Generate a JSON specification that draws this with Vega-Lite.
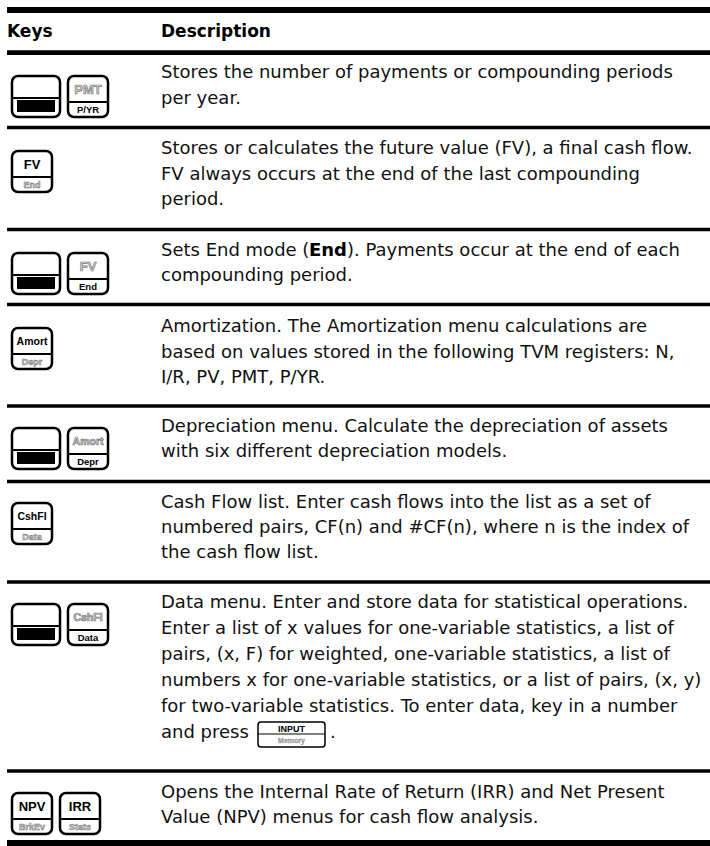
{
  "$schema": "https://vega.github.io/schema/vega-lite/v6.json",
  "width": 710,
  "height": 846,
  "padding": 0,
  "autosize": {"type": "none"},
  "background": "white",
  "config": {"view": {"stroke": null}},
  "datasets": {
    "rules": [
      {"y": 10, "level": "frame"},
      {"y": 52.5, "level": "head"},
      {"y": 127.5, "level": "row"},
      {"y": 229.5, "level": "row"},
      {"y": 304.5, "level": "row"},
      {"y": 406, "level": "row"},
      {"y": 481.5, "level": "row"},
      {"y": 582, "level": "row"},
      {"y": 771, "level": "row"},
      {"y": 843, "level": "frame"}
    ],
    "header": [
      {"x": 7, "y": 37, "text": "Keys"},
      {"x": 161, "y": 37, "text": "Description"}
    ],
    "emph": [
      {"x": 309, "y": 256, "text": "End"}
    ],
    "body": [
      {"x": 161, "y": 78, "text": "Stores the number of payments or compounding periods"},
      {"x": 161, "y": 104, "text": "per year."},
      {"x": 161, "y": 154, "text": "Stores or calculates the future value (FV), a final cash flow."},
      {"x": 161, "y": 180, "text": "FV always occurs at the end of the last compounding"},
      {"x": 161, "y": 205, "text": "period."},
      {"x": 161, "y": 256, "text": "Sets End mode ("},
      {"x": 347, "y": 256, "text": "). Payments occur at the end of each"},
      {"x": 161, "y": 281, "text": "compounding period."},
      {"x": 161, "y": 332, "text": "Amortization. The Amortization menu calculations are"},
      {"x": 161, "y": 358, "text": "based on values stored in the following TVM registers: N,"},
      {"x": 161, "y": 383, "text": "I/R, PV, PMT, P/YR."},
      {"x": 161, "y": 432, "text": "Depreciation menu. Calculate the depreciation of assets"},
      {"x": 161, "y": 457, "text": "with six different depreciation models."},
      {"x": 161, "y": 508, "text": "Cash Flow list. Enter cash flows into the list as a set of"},
      {"x": 161, "y": 533, "text": "numbered pairs, CF(n) and #CF(n), where n is the index of"},
      {"x": 161, "y": 558, "text": "the cash flow list."},
      {"x": 161, "y": 608, "text": "Data menu. Enter and store data for statistical operations."},
      {"x": 161, "y": 634, "text": "Enter a list of x values for one-variable statistics, a list of"},
      {"x": 161, "y": 660, "text": "pairs, (x, F) for weighted, one-variable statistics, a list of"},
      {"x": 161, "y": 686, "text": "numbers x for one-variable statistics, or a list of pairs, (x, y)"},
      {"x": 161, "y": 712, "text": "for two-variable statistics. To enter data, key in a number"},
      {"x": 161, "y": 738, "text": "and press"},
      {"x": 330, "y": 738, "text": "."},
      {"x": 161, "y": 798, "text": "Opens the Internal Rate of Return (IRR) and Net Present"},
      {"x": 161, "y": 823, "text": "Value (NPV) menus for cash flow analysis."}
    ],
    "keys": [
      {"row": 1, "shape": "shift", "x": 12, "x2": 60, "y": 76, "y2": 117},
      {"row": 1, "shape": "key", "x": 68, "x2": 108, "y": 76, "y2": 117, "top": "PMT", "bottom": "P/YR", "active": "bottom"},
      {"row": 2, "shape": "key", "x": 12, "x2": 52, "y": 151, "y2": 192, "top": "FV", "bottom": "End", "active": "top"},
      {"row": 3, "shape": "shift", "x": 12, "x2": 60, "y": 253, "y2": 294},
      {"row": 3, "shape": "key", "x": 68, "x2": 108, "y": 253, "y2": 294, "top": "FV", "bottom": "End", "active": "bottom"},
      {"row": 4, "shape": "key", "x": 12, "x2": 52, "y": 328, "y2": 369, "top": "Amort", "bottom": "Depr", "active": "top"},
      {"row": 5, "shape": "shift", "x": 12, "x2": 60, "y": 428, "y2": 469},
      {"row": 5, "shape": "key", "x": 68, "x2": 108, "y": 428, "y2": 469, "top": "Amort", "bottom": "Depr", "active": "bottom"},
      {"row": 6, "shape": "key", "x": 12, "x2": 52, "y": 503, "y2": 544, "top": "CshFl", "bottom": "Data", "active": "top"},
      {"row": 7, "shape": "shift", "x": 12, "x2": 60, "y": 604, "y2": 645},
      {"row": 7, "shape": "key", "x": 68, "x2": 108, "y": 604, "y2": 645, "top": "CshFl", "bottom": "Data", "active": "bottom"},
      {"row": 8, "shape": "key", "x": 12, "x2": 52, "y": 793, "y2": 834, "top": "NPV", "bottom": "BrkEv", "active": "top"},
      {"row": 8, "shape": "key", "x": 60, "x2": 100, "y": 793, "y2": 834, "top": "IRR", "bottom": "Stats", "active": "top"}
    ],
    "inline": [
      {"x": 258, "x2": 325, "y": 722, "y2": 747, "top": "INPUT", "bottom": "Memory"}
    ]
  },
  "layer": [
    {
      "data": {"name": "rules"},
      "mark": {"type": "rule", "color": "#000"},
      "encoding": {
        "y": {"field": "y", "type": "quantitative", "scale": {"domain": [0, 846], "range": [0, 846], "nice": false, "zero": false}, "axis": null},
        "x": {"datum": 7, "type": "quantitative", "scale": {"domain": [0, 710], "range": [0, 710], "nice": false, "zero": false}, "axis": null},
        "x2": {"datum": 710},
        "size": {"field": "level", "type": "nominal", "scale": {"domain": ["frame", "head", "row"], "range": [6, 3.5, 2.5]}, "legend": null}
      }
    },
    {
      "data": {"name": "header"},
      "mark": {"type": "text", "align": "left", "baseline": "alphabetic", "font": "DejaVu Sans", "fontWeight": "bold", "fontSize": 17, "color": "#000"},
      "encoding": {
        "x": {"field": "x", "type": "quantitative", "scale": {"domain": [0, 710], "range": [0, 710], "nice": false, "zero": false}, "axis": null},
        "y": {"field": "y", "type": "quantitative", "scale": {"domain": [0, 846], "range": [0, 846], "nice": false, "zero": false}, "axis": null},
        "text": {"field": "text"}
      }
    },
    {
      "data": {"name": "emph"},
      "mark": {"type": "text", "align": "left", "baseline": "alphabetic", "font": "DejaVu Sans", "fontWeight": "bold", "fontSize": 18, "color": "#000"},
      "encoding": {
        "x": {"field": "x", "type": "quantitative", "scale": {"domain": [0, 710], "range": [0, 710], "nice": false, "zero": false}, "axis": null},
        "y": {"field": "y", "type": "quantitative", "scale": {"domain": [0, 846], "range": [0, 846], "nice": false, "zero": false}, "axis": null},
        "text": {"field": "text"}
      }
    },
    {
      "data": {"name": "body"},
      "mark": {"type": "text", "align": "left", "baseline": "alphabetic", "font": "DejaVu Sans", "fontSize": 18, "color": "#111"},
      "encoding": {
        "x": {"field": "x", "type": "quantitative", "scale": {"domain": [0, 710], "range": [0, 710], "nice": false, "zero": false}, "axis": null},
        "y": {"field": "y", "type": "quantitative", "scale": {"domain": [0, 846], "range": [0, 846], "nice": false, "zero": false}, "axis": null},
        "text": {"field": "text"}
      }
    },
    {
      "data": {"name": "keys"},
      "mark": {"type": "rect", "fill": "white", "stroke": "#000", "strokeWidth": 2.5, "cornerRadius": 6},
      "encoding": {
        "x": {"field": "x", "type": "quantitative", "scale": {"domain": [0, 710], "range": [0, 710], "nice": false, "zero": false}, "axis": null},
        "x2": {"field": "x2"},
        "y": {"field": "y", "type": "quantitative", "scale": {"domain": [0, 846], "range": [0, 846], "nice": false, "zero": false}, "axis": null},
        "y2": {"field": "y2"}
      }
    },
    {
      "data": {"name": "keys"},
      "transform": [{"filter": "datum.shape === 'key'"}],
      "mark": {"type": "rule", "color": "#000", "strokeWidth": 1.8, "yOffset": 26},
      "encoding": {
        "x": {"field": "x", "type": "quantitative", "scale": {"domain": [0, 710], "range": [0, 710], "nice": false, "zero": false}, "axis": null},
        "x2": {"field": "x2"},
        "y": {"field": "y", "type": "quantitative", "scale": {"domain": [0, 846], "range": [0, 846], "nice": false, "zero": false}, "axis": null}
      }
    },
    {
      "data": {"name": "keys"},
      "transform": [{"filter": "datum.shape === 'shift'"}],
      "mark": {"type": "rule", "color": "#000", "strokeWidth": 1.8, "yOffset": 22},
      "encoding": {
        "x": {"field": "x", "type": "quantitative", "scale": {"domain": [0, 710], "range": [0, 710], "nice": false, "zero": false}, "axis": null},
        "x2": {"field": "x2"},
        "y": {"field": "y", "type": "quantitative", "scale": {"domain": [0, 846], "range": [0, 846], "nice": false, "zero": false}, "axis": null}
      }
    },
    {
      "data": {"name": "keys"},
      "transform": [{"filter": "datum.shape === 'shift'"}],
      "mark": {"type": "rect", "fill": "#000", "xOffset": 5, "x2Offset": -5, "yOffset": 24, "y2Offset": -5},
      "encoding": {
        "x": {"field": "x", "type": "quantitative", "scale": {"domain": [0, 710], "range": [0, 710], "nice": false, "zero": false}, "axis": null},
        "x2": {"field": "x2"},
        "y": {"field": "y", "type": "quantitative", "scale": {"domain": [0, 846], "range": [0, 846], "nice": false, "zero": false}, "axis": null},
        "y2": {"field": "y2"}
      }
    },
    {
      "data": {"name": "keys"},
      "transform": [{"filter": "datum.shape === 'key' && datum.active === 'top'"}],
      "mark": {"type": "text", "align": "center", "baseline": "middle", "font": "Liberation Sans", "fontWeight": "bold", "dx": 20, "dy": 13.5, "fill": "#000"},
      "encoding": {
        "x": {"field": "x", "type": "quantitative", "scale": {"domain": [0, 710], "range": [0, 710], "nice": false, "zero": false}, "axis": null},
        "y": {"field": "y", "type": "quantitative", "scale": {"domain": [0, 846], "range": [0, 846], "nice": false, "zero": false}, "axis": null},
        "text": {"field": "top"},
        "size": {"condition": {"test": "length(datum.top) > 3", "value": 10.5}, "value": 13}
      }
    },
    {
      "data": {"name": "keys"},
      "transform": [{"filter": "datum.shape === 'key' && datum.active === 'bottom'"}],
      "mark": {"type": "text", "align": "center", "baseline": "middle", "font": "Liberation Sans", "fontWeight": "bold", "dx": 20, "dy": 13.5, "fill": "#d9d9d9", "stroke": "#777", "strokeWidth": 0.7},
      "encoding": {
        "x": {"field": "x", "type": "quantitative", "scale": {"domain": [0, 710], "range": [0, 710], "nice": false, "zero": false}, "axis": null},
        "y": {"field": "y", "type": "quantitative", "scale": {"domain": [0, 846], "range": [0, 846], "nice": false, "zero": false}, "axis": null},
        "text": {"field": "top"},
        "size": {"condition": {"test": "length(datum.top) > 3", "value": 10.5}, "value": 13}
      }
    },
    {
      "data": {"name": "keys"},
      "transform": [{"filter": "datum.shape === 'key' && datum.active === 'bottom'"}],
      "mark": {"type": "text", "align": "center", "baseline": "middle", "font": "Liberation Sans", "fontWeight": "bold", "fontSize": 9.5, "dx": 20, "dy": 33.5, "fill": "#000"},
      "encoding": {
        "x": {"field": "x", "type": "quantitative", "scale": {"domain": [0, 710], "range": [0, 710], "nice": false, "zero": false}, "axis": null},
        "y": {"field": "y", "type": "quantitative", "scale": {"domain": [0, 846], "range": [0, 846], "nice": false, "zero": false}, "axis": null},
        "text": {"field": "bottom"}
      }
    },
    {
      "data": {"name": "keys"},
      "transform": [{"filter": "datum.shape === 'key' && datum.active === 'top'"}],
      "mark": {"type": "text", "align": "center", "baseline": "middle", "font": "Liberation Sans", "fontWeight": "bold", "fontSize": 9, "dx": 20, "dy": 33.5, "fill": "#c8c8c8", "stroke": "#7a7a7a", "strokeWidth": 0.5},
      "encoding": {
        "x": {"field": "x", "type": "quantitative", "scale": {"domain": [0, 710], "range": [0, 710], "nice": false, "zero": false}, "axis": null},
        "y": {"field": "y", "type": "quantitative", "scale": {"domain": [0, 846], "range": [0, 846], "nice": false, "zero": false}, "axis": null},
        "text": {"field": "bottom"}
      }
    },
    {
      "data": {"name": "inline"},
      "mark": {"type": "rect", "fill": "white", "stroke": "#000", "strokeWidth": 1.5, "cornerRadius": 3},
      "encoding": {
        "x": {"field": "x", "type": "quantitative", "scale": {"domain": [0, 710], "range": [0, 710], "nice": false, "zero": false}, "axis": null},
        "x2": {"field": "x2"},
        "y": {"field": "y", "type": "quantitative", "scale": {"domain": [0, 846], "range": [0, 846], "nice": false, "zero": false}, "axis": null},
        "y2": {"field": "y2"}
      }
    },
    {
      "data": {"name": "inline"},
      "mark": {"type": "rule", "color": "#000", "strokeWidth": 1, "yOffset": 12},
      "encoding": {
        "x": {"field": "x", "type": "quantitative", "scale": {"domain": [0, 710], "range": [0, 710], "nice": false, "zero": false}, "axis": null},
        "x2": {"field": "x2"},
        "y": {"field": "y", "type": "quantitative", "scale": {"domain": [0, 846], "range": [0, 846], "nice": false, "zero": false}, "axis": null}
      }
    },
    {
      "data": {"name": "inline"},
      "mark": {"type": "text", "align": "center", "baseline": "middle", "font": "Liberation Sans", "fontWeight": "bold", "fontSize": 9, "dx": 33.5, "dy": 6.5, "fill": "#000"},
      "encoding": {
        "x": {"field": "x", "type": "quantitative", "scale": {"domain": [0, 710], "range": [0, 710], "nice": false, "zero": false}, "axis": null},
        "y": {"field": "y", "type": "quantitative", "scale": {"domain": [0, 846], "range": [0, 846], "nice": false, "zero": false}, "axis": null},
        "text": {"field": "top"}
      }
    },
    {
      "data": {"name": "inline"},
      "mark": {"type": "text", "align": "center", "baseline": "middle", "font": "Liberation Sans", "fontWeight": "bold", "fontSize": 7, "dx": 33.5, "dy": 18.5, "fill": "#b0b0b0", "stroke": "#888", "strokeWidth": 0.3},
      "encoding": {
        "x": {"field": "x", "type": "quantitative", "scale": {"domain": [0, 710], "range": [0, 710], "nice": false, "zero": false}, "axis": null},
        "y": {"field": "y", "type": "quantitative", "scale": {"domain": [0, 846], "range": [0, 846], "nice": false, "zero": false}, "axis": null},
        "text": {"field": "bottom"}
      }
    }
  ]
}
